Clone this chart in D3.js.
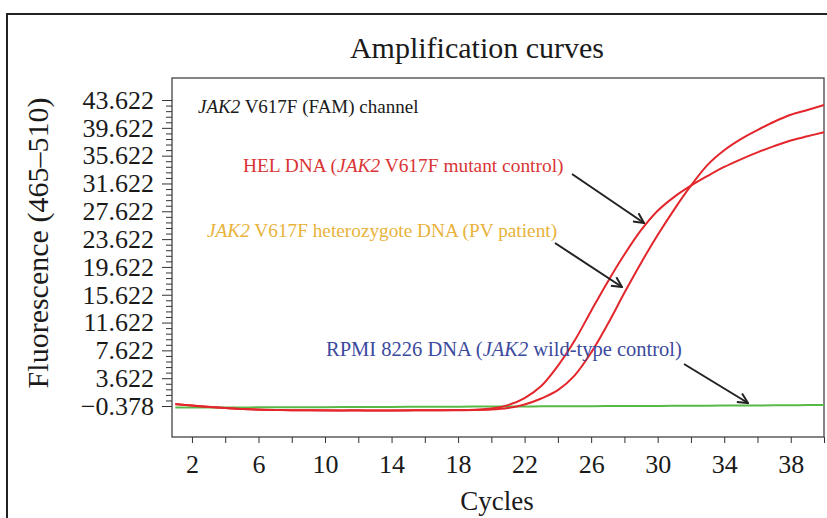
<!DOCTYPE html>
<html>
<head>
<meta charset="utf-8">
<script src="https://cdn.jsdelivr.net/npm/d3@7"></script>
<style>
  html, body { margin: 0; padding: 0; background: #fff; }
  svg { display: block; }
  text { font-family: "Liberation Serif", "Times New Roman", serif; }
</style>
</head>
<body>
<svg id="chart" width="827" height="518"></svg>
<script>
// ---------- data ----------
const cycles = [1,2,3,4,5,6,7,8,9,10,11,12,13,14,15,16,17,18,19,20,
                21,22,23,24,25,26,27,28,29,30,31,32,33,34,35,36,37,38,39,40];
const helValues = [-0.09,-0.30,-0.50,-0.66,-0.80,-0.88,-0.94,-0.98,-1.00,-1.00,
                   -1.01,-1.00,-1.02,-1.01,-1.00,-1.00,-0.99,-0.96,-0.90,-0.75,
                   -0.25,0.77,2.5,5.4,9.0,13.3,17.5,21.4,24.9,27.7,
                   29.7,31.3,32.7,34.0,35.1,36.1,37.0,37.8,38.4,39.0];
const pvValues  = [-0.12,-0.32,-0.52,-0.68,-0.80,-0.90,-0.95,-0.98,-1.00,-1.01,
                   -1.02,-1.02,-1.03,-1.02,-1.01,-1.00,-1.00,-0.98,-0.95,-0.88,
                   -0.66,-0.16,0.7,1.9,4.0,7.3,11.4,15.9,20.2,24.2,
                   27.9,31.3,34.3,36.4,38.0,39.3,40.5,41.5,42.2,42.9];
const wtValues  = [-0.60,-0.60,-0.59,-0.58,-0.58,-0.57,-0.56,-0.56,-0.55,-0.54,
                   -0.53,-0.53,-0.52,-0.51,-0.50,-0.49,-0.48,-0.47,-0.46,-0.45,
                   -0.45,-0.44,-0.43,-0.42,-0.41,-0.40,-0.39,-0.38,-0.37,-0.36,
                   -0.35,-0.34,-0.33,-0.32,-0.31,-0.30,-0.28,-0.27,-0.25,-0.24];
const yTickValues = [-0.378,3.622,7.622,11.622,15.622,19.622,23.622,27.622,31.622,35.622,39.622,43.622];
const xTickValues = [2,4,6,8,10,12,14,16,18,20,22,24,26,28,30,32,34,36,38,40];
const xTickLabels = [2,6,10,14,18,22,26,30,34,38];

// ---------- layout ----------
const svg = d3.select("#chart");
const L = 172, R = 824, T = 78, B = 437;

const x = d3.scaleLinear().domain([0.8, 40]).range([L, R]);
const y = d3.scaleLinear().domain([-4.835, 46.79]).range([B, T]);

// outer frame
svg.append("rect").attr("x", 7).attr("y", 14).attr("width", 840).attr("height", 530)
  .attr("fill", "none").attr("stroke", "#222").attr("stroke-width", 2);

// title
svg.append("text").attr("x", 477).attr("y", 58).attr("text-anchor", "middle")
  .attr("font-size", 30).attr("fill", "#1a1a1a").text("Amplification curves");

// plot box
svg.append("rect").attr("x", L).attr("y", T).attr("width", R - L).attr("height", B - T)
  .attr("fill", "#fff").attr("stroke", "#444").attr("stroke-width", 1.3);

// y minor ticks
const minorTicks = [];
for (let i = 0; i < yTickValues.length - 1; i++) {
  const a = yTickValues[i], b = yTickValues[i + 1];
  for (let k = 1; k < 5; k++) minorTicks.push(a + (b - a) * k / 5);
}
svg.append("g").attr("transform", `translate(${L},0)`)
  .call(d3.axisLeft(y).tickValues(minorTicks).tickSize(6).tickFormat(""))
  .call(g => g.select(".domain").remove())
  .call(g => g.selectAll("line").attr("stroke", "#333"));

// y major axis
svg.append("g").attr("transform", `translate(${L},0)`)
  .call(d3.axisLeft(y).tickValues(yTickValues).tickSize(10).tickPadding(8).tickFormat(d3.format(".3f")))
  .call(g => g.select(".domain").remove())
  .call(g => g.selectAll("line").attr("stroke", "#333"))
  .call(g => g.selectAll("text").attr("font-size", 26).attr("fill", "#1a1a1a")
               .style("font-family", "'Liberation Serif', serif"));

// x axis
svg.append("g").attr("transform", `translate(0,${B})`)
  .call(d3.axisBottom(x).tickValues(xTickValues).tickSize(6).tickPadding(12)
        .tickFormat(d => xTickLabels.includes(d) ? d : ""))
  .call(g => g.select(".domain").remove())
  .call(g => g.selectAll("line").attr("stroke", "#333"))
  .call(g => g.selectAll("text").attr("font-size", 26).attr("fill", "#1a1a1a")
               .style("font-family", "'Liberation Serif', serif"));

// axis titles
svg.append("text").attr("x", 497).attr("y", 510).attr("text-anchor", "middle")
  .attr("font-size", 27).attr("fill", "#1a1a1a").text("Cycles");
svg.append("text").attr("transform", "translate(48,243) rotate(-90)").attr("text-anchor", "middle")
  .attr("font-size", 30).attr("fill", "#1a1a1a").text("Fluorescence (465–510)");

// curves
const line = d3.line().x((d, i) => x(cycles[i])).y(d => y(d)).curve(d3.curveCatmullRom.alpha(0.5));
svg.append("path").datum(wtValues).attr("d", line)
  .attr("fill", "none").attr("stroke", "#58b947").attr("stroke-width", 2);
svg.append("path").datum(pvValues).attr("d", line)
  .attr("fill", "none").attr("stroke", "#e3262b").attr("stroke-width", 2);
svg.append("path").datum(helValues).attr("d", line)
  .attr("fill", "none").attr("stroke", "#e3262b").attr("stroke-width", 2);

// annotations
function label(xp, yp, color, size, parts) {
  const t = svg.append("text").attr("x", xp).attr("y", yp).attr("font-size", size).attr("fill", color);
  parts.forEach(p => t.append("tspan").attr("font-style", p[1] ? "italic" : "normal").text(p[0]));
}
label(198, 113, "#1a1a1a", 19, [["JAK2", true], [" V617F (FAM) channel", false]]);
label(243, 172, "#d93535", 19.4, [["HEL DNA (", false], ["JAK2", true], [" V617F mutant control)", false]]);
label(207, 237, "#e8b23a", 19.3, [["JAK2", true], [" V617F heterozygote DNA (PV patient)", false]]);
label(326, 356, "#3c4a9e", 20.5, [["RPMI 8226 DNA (", false], ["JAK2", true], [" wild-type control)", false]]);

// arrows
svg.append("defs").append("marker").attr("id", "arr")
  .attr("viewBox", "0 0 12 12").attr("refX", 11).attr("refY", 6)
  .attr("markerWidth", 12).attr("markerHeight", 12).attr("markerUnits", "userSpaceOnUse")
  .attr("orient", "auto")
  .append("path").attr("d", "M1,1 L11,6 L1,11").attr("fill", "none")
  .attr("stroke", "#222").attr("stroke-width", 2);
const arrows = [[572, 174, 644, 223], [555, 243, 622, 287], [684, 364, 748, 403]];
arrows.forEach(a => svg.append("line").attr("x1", a[0]).attr("y1", a[1]).attr("x2", a[2]).attr("y2", a[3])
  .attr("stroke", "#222").attr("stroke-width", 2).attr("marker-end", "url(#arr)"));
</script>
</body>
</html>
